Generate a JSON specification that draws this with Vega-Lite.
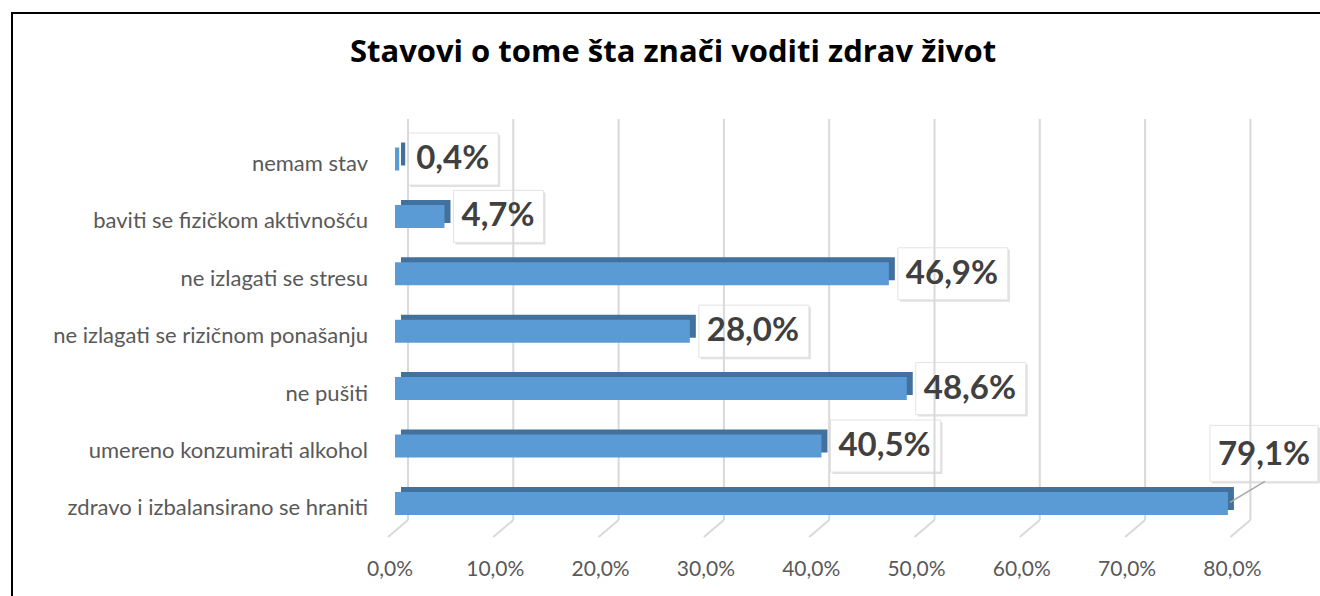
{
  "$schema": "https://vega.github.io/schema/vega-lite/v6.json",
  "width": 1310,
  "height": 586,
  "autosize": {"type": "none"},
  "padding": {"left": 12, "top": 13, "right": -2, "bottom": -3},
  "background": "white",
  "title": {
    "text": "Stavovi o tome šta znači voditi zdrav život",
    "font": "Open Sans",
    "fontSize": 31,
    "fontWeight": "bold",
    "color": "#000000",
    "anchor": "middle",
    "baseline": "alphabetic",
    "offset": -80,
    "dx": 6
  },
  "config": {
    "view": {"stroke": "#000000", "strokeWidth": 2},
    "font": "Lato",
    "locale": {
      "number": {"decimal": ",", "thousands": ".", "grouping": [3], "currency": ["", " €"]}
    }
  },
  "datasets": {
    "main": [
      {"category": "nemam stav", "value": 0.004},
      {"category": "baviti se fizičkom aktivnošću", "value": 0.047},
      {"category": "ne izlagati se stresu", "value": 0.469},
      {"category": "ne izlagati se rizičnom ponašanju", "value": 0.28},
      {"category": "ne pušiti", "value": 0.486},
      {"category": "umereno konzumirati alkohol", "value": 0.405},
      {"category": "zdravo i izbalansirano se hraniti", "value": 0.791}
    ],
    "ticks": [
      {"t": 0}, {"t": 0.1}, {"t": 0.2}, {"t": 0.3}, {"t": 0.4},
      {"t": 0.5}, {"t": 0.6}, {"t": 0.7}, {"t": 0.8}
    ]
  },
  "data": {"name": "main"},
  "encoding": {
    "y": {
      "field": "category",
      "type": "nominal",
      "sort": null,
      "scale": {
        "domain": [
          "nemam stav",
          "baviti se fizičkom aktivnošću",
          "ne izlagati se stresu",
          "ne izlagati se rizičnom ponašanju",
          "ne pušiti",
          "umereno konzumirati alkohol",
          "zdravo i izbalansirano se hraniti"
        ],
        "range": [117.3, 519.1],
        "paddingInner": 0,
        "paddingOuter": 0
      },
      "axis": null
    },
    "x": {
      "field": "value",
      "type": "quantitative",
      "scale": {"domain": [0, 0.8], "range": [383, 1225.4], "nice": false, "zero": true},
      "axis": null
    }
  },
  "layer": [
    {
      "transform": [{"filter": "datum.value < 0.1"}],
      "mark": {"type": "rect", "height": 52, "xOffset": 11, "x2Offset": 101, "yOffset": 2, "color": "#000000", "opacity": 0.12},
      "encoding": {"x2": {"field": "value"}}
    },
    {
      "transform": [{"filter": "datum.value >= 0.1 && datum.value < 0.7"}],
      "mark": {"type": "rect", "height": 52, "xOffset": 11, "x2Offset": 121, "yOffset": 2, "color": "#000000", "opacity": 0.12},
      "encoding": {"x2": {"field": "value"}}
    },
    {
      "transform": [{"filter": "datum.value >= 0.7"}],
      "mark": {"type": "rect", "height": 56, "xOffset": -16, "x2Offset": 92, "yOffset": -48, "color": "#000000", "opacity": 0.12},
      "encoding": {"x2": {"field": "value"}}
    },
    {
      "transform": [{"filter": "datum.value < 0.1"}],
      "mark": {"type": "rect", "height": 52, "xOffset": 9, "x2Offset": 99, "fill": "#FFFFFF", "stroke": "#E3E3E3", "strokeWidth": 1},
      "encoding": {"x2": {"field": "value"}}
    },
    {
      "transform": [{"filter": "datum.value >= 0.1 && datum.value < 0.7"}],
      "mark": {"type": "rect", "height": 52, "xOffset": 9, "x2Offset": 119, "fill": "#FFFFFF", "stroke": "#E3E3E3", "strokeWidth": 1},
      "encoding": {"x2": {"field": "value"}}
    },
    {
      "transform": [{"filter": "datum.value >= 0.7"}],
      "mark": {"type": "rect", "height": 56, "xOffset": -18, "x2Offset": 90, "yOffset": -50, "fill": "#FFFFFF", "stroke": "#E3E3E3", "strokeWidth": 1},
      "encoding": {"x2": {"field": "value"}}
    },
    {
      "data": {"name": "ticks"},
      "mark": {"type": "rule", "color": "#D9D9D9", "strokeWidth": 2, "xOffset": 13, "yOffset": -40, "y2Offset": 16.6},
      "encoding": {
        "x": {"field": "t", "type": "quantitative"},
        "y": {"datum": "nemam stav", "type": "nominal"},
        "y2": {"datum": "zdravo i izbalansirano se hraniti"}
      }
    },
    {
      "data": {"name": "ticks"},
      "mark": {"type": "rule", "color": "#D9D9D9", "strokeWidth": 2, "xOffset": 13, "x2Offset": -7, "yOffset": 16.6, "y2Offset": 33.6},
      "encoding": {
        "x": {"field": "t", "type": "quantitative"},
        "x2": {"field": "t"},
        "y": {"datum": "zdravo i izbalansirano se hraniti", "type": "nominal"},
        "y2": {"datum": "zdravo i izbalansirano se hraniti"}
      }
    },
    {
      "data": {"name": "ticks"},
      "mark": {"type": "text", "align": "center", "baseline": "middle", "xOffset": -5, "yOffset": 67, "font": "Lato", "fontSize": 21, "color": "#595959"},
      "encoding": {
        "x": {"field": "t", "type": "quantitative"},
        "y": {"datum": "zdravo i izbalansirano se hraniti", "type": "nominal"},
        "text": {"field": "t", "type": "quantitative", "format": ".1%"}
      }
    },
    {
      "mark": {"type": "text", "align": "right", "baseline": "middle", "xOffset": -27, "yOffset": 5, "font": "Lato", "fontSize": 22, "color": "#595959"},
      "encoding": {
        "x": {"datum": 0, "type": "quantitative"},
        "text": {"field": "category", "type": "nominal"}
      }
    },
    {
      "mark": {"type": "bar", "height": 23, "xOffset": 6, "x2Offset": 4, "yOffset": -5, "color": "#41719C"}
    },
    {
      "mark": {"type": "bar", "height": 23, "color": "#5B9BD5"}
    },
    {
      "transform": [{"filter": "datum.value >= 0.7"}],
      "mark": {"type": "rule", "color": "#A6A6A6", "strokeWidth": 1.5, "xOffset": 37, "yOffset": -22, "x2Offset": 2, "y2Offset": -1},
      "encoding": {"x2": {"field": "value"}, "y2": {"field": "category"}}
    },
    {
      "transform": [{"filter": "datum.value < 0.7"}],
      "mark": {"type": "text", "align": "left", "baseline": "middle", "xOffset": 17, "font": "Lato", "fontSize": 33, "fontWeight": "bold", "color": "#404040"},
      "encoding": {"text": {"field": "value", "type": "quantitative", "format": ".1%"}}
    },
    {
      "transform": [{"filter": "datum.value >= 0.7"}],
      "mark": {"type": "text", "align": "left", "baseline": "middle", "xOffset": -10, "yOffset": -48.5, "font": "Lato", "fontSize": 33, "fontWeight": "bold", "color": "#404040"},
      "encoding": {"text": {"field": "value", "type": "quantitative", "format": ".1%"}}
    }
  ]
}
